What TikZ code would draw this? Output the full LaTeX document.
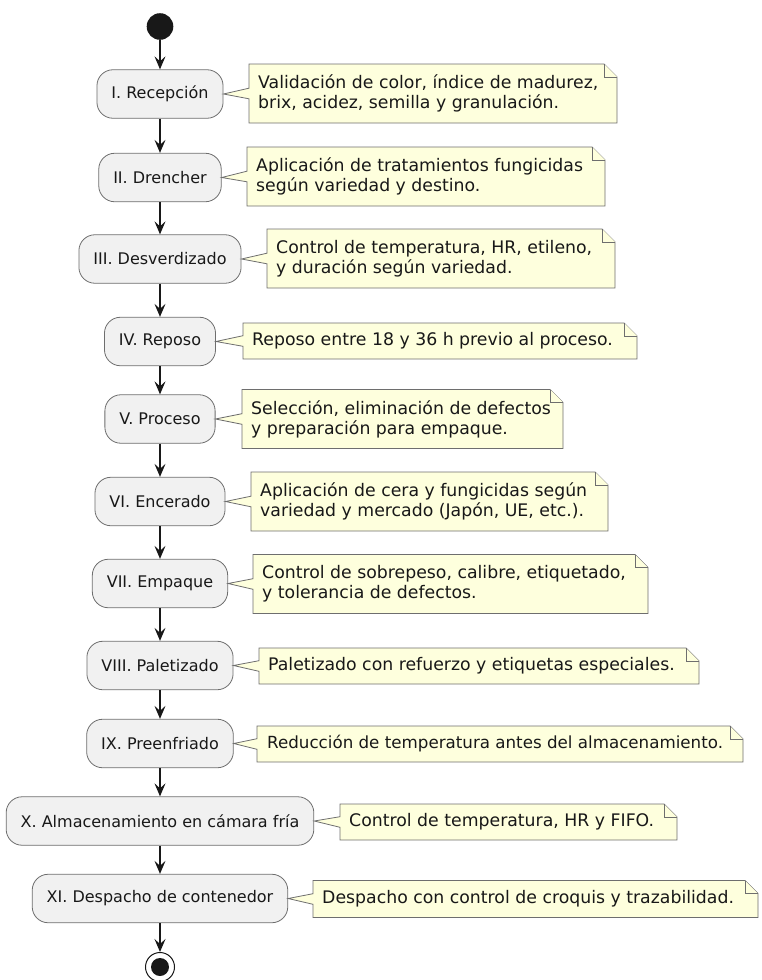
\documentclass[tikz,border=0pt]{standalone}
\usepackage{fontspec}
\setmainfont{DejaVu Sans}
\usetikzlibrary{arrows.meta}
\definecolor{actfill}{HTML}{F1F1F1}
\definecolor{notefill}{HTML}{FEFFDD}
\definecolor{ink}{HTML}{181818}
\definecolor{edge}{HTML}{6E6E6E}
\newcommand\notecallout[2]{%
  \draw[noteline] (#1.north west) -- ([xshift=-13pt]#1.north east) -- ([yshift=-13pt]#1.north east)
    -- (#1.south east) -- (#1.south west) -- ([yshift=-5.3pt]#1.west) -- (#2.east)
    -- ([yshift=5.3pt]#1.west) -- cycle;
  \draw[noteline] ([xshift=-13pt]#1.north east) -- ([xshift=-13pt,yshift=-13pt]#1.north east)
    -- ([yshift=-13pt]#1.north east);
}
\begin{document}
\begin{tikzpicture}[x=1pt,y=-1pt,
  act/.style={draw=edge, line width=0.8pt, fill=actfill, rounded corners=16pt,
    minimum height=48.5pt, inner xsep=14.5pt, inner ysep=0pt,
    font=\fontsize{16}{19}\selectfont, text=ink},
  notearea/.style={inner sep=0pt, outer sep=0pt, anchor=north west},
  noteline/.style={draw=edge, line width=0.8pt, fill=notefill, line join=miter},
  notetxt/.style={anchor=west, inner sep=0pt, align=left,
    font=\fontsize{17.3}{20}\selectfont, text=ink},
  flow/.style={draw=ink, line width=1.2pt, -{Stealth[length=13pt,width=11pt,inset=5pt]}},
]
\useasboundingbox (0,0) rectangle (762,980);

\node[circle, fill=ink, minimum size=26.6pt, inner sep=0pt] (start) at (160,26.5) {};

\node[act] (a1) at (160,94) {I. Recepción};
\node[act] (a2) at (160,177.5) {II. Drencher};
\node[act] (a3) at (160,259) {III. Desverdizado};
\node[act] (a4) at (160,341.5) {IV. Reposo};
\node[act] (a5) at (160,419) {V. Proceso};
\node[act] (a6) at (160,501.5) {VI. Encerado};
\node[act] (a7) at (160,583.5) {VII. Empaque};
\node[act] (a8) at (160,665.5) {VIII. Paletizado};
\node[act] (a9) at (160,743.5) {IX. Preenfriado};
\node[act] (a10) at (160,821) {X. Almacenamiento en cámara fría};
\node[act] (a11) at (160,898.5) {XI. Despacho de contenedor};

\node[circle, draw=ink, line width=1pt, fill=white, minimum size=29pt, inner sep=0pt] (end) at (160,967) {};
\node[circle, fill=ink, minimum size=18pt, inner sep=0pt] (endin) at (160,967) {};

\draw[flow] (start) -- (a1);
\draw[flow] (a1) -- (a2);
\draw[flow] (a2) -- (a3);
\draw[flow] (a3) -- (a4);
\draw[flow] (a4) -- (a5);
\draw[flow] (a5) -- (a6);
\draw[flow] (a6) -- (a7);
\draw[flow] (a7) -- (a8);
\draw[flow] (a8) -- (a9);
\draw[flow] (a9) -- (a10);
\draw[flow] (a10) -- (a11);
\draw[flow] (a11) -- (end);

% notes
\node[notearea, minimum width=368pt, minimum height=59pt] (n1) at (249,64) {};
\notecallout{n1}{a1}
\node[notetxt] (t1) at ([xshift=9pt]n1.west) {Validación de color, índice de madurez,\\brix, acidez, semilla y granulación.};

\node[notearea, minimum width=358pt, minimum height=59pt] (n2) at (247,147) {};
\notecallout{n2}{a2}
\node[notetxt] (t2) at ([xshift=9pt]n2.west) {Aplicación de tratamientos fungicidas\\según variedad y destino.};

\node[notearea, minimum width=348pt, minimum height=59pt] (n3) at (267,229) {};
\notecallout{n3}{a3}
\node[notetxt] (t3) at ([xshift=9pt]n3.west) {Control de temperatura, HR, etileno,\\y duración según variedad.};

\node[notearea, minimum width=394pt, minimum height=36pt] (n4) at (243,323) {};
\notecallout{n4}{a4}
\node[notetxt] (t4) at ([xshift=9pt]n4.west) {Reposo entre 18 y 36 h previo al proceso.};

\node[notearea, minimum width=321pt, minimum height=59pt] (n5) at (242,389.5) {};
\notecallout{n5}{a5}
\node[notetxt] (t5) at ([xshift=9pt]n5.west) {Selección, eliminación de defectos\\y preparación para empaque.};

\node[notearea, minimum width=357pt, minimum height=59pt] (n6) at (251,472) {};
\notecallout{n6}{a6}
\node[notetxt] (t6) at ([xshift=9pt]n6.west) {Aplicación de cera y fungicidas según\\variedad y mercado (Japón, UE, etc.).};

\node[notearea, minimum width=395pt, minimum height=59pt] (n7) at (253,554.5) {};
\notecallout{n7}{a7}
\node[notetxt] (t7) at ([xshift=9pt]n7.west) {Control de sobrepeso, calibre, etiquetado,\\y tolerancia de defectos.};

\node[notearea, minimum width=440pt, minimum height=36pt] (n8) at (259,648) {};
\notecallout{n8}{a8}
\node[notetxt] (t8) at ([xshift=9pt]n8.west) {Paletizado con refuerzo y etiquetas especiales.};

\node[notearea, minimum width=486pt, minimum height=36pt] (n9) at (257,726) {};
\notecallout{n9}{a9}
\node[notetxt, font=\fontsize{16.7}{20}\selectfont] (t9) at ([xshift=10pt]n9.west) {Reducción de temperatura antes del almacenamiento.};

\node[notearea, minimum width=337pt, minimum height=36pt] (n10) at (340,804) {};
\notecallout{n10}{a10}
\node[notetxt] (t10) at ([xshift=9pt]n10.west) {Control de temperatura, HR y FIFO.};

\node[notearea, minimum width=445pt, minimum height=37pt] (n11) at (313,880.5) {};
\notecallout{n11}{a11}
\node[notetxt] (t11) at ([xshift=9pt]n11.west) {Despacho con control de croquis y trazabilidad.};
\end{tikzpicture}
\end{document}
